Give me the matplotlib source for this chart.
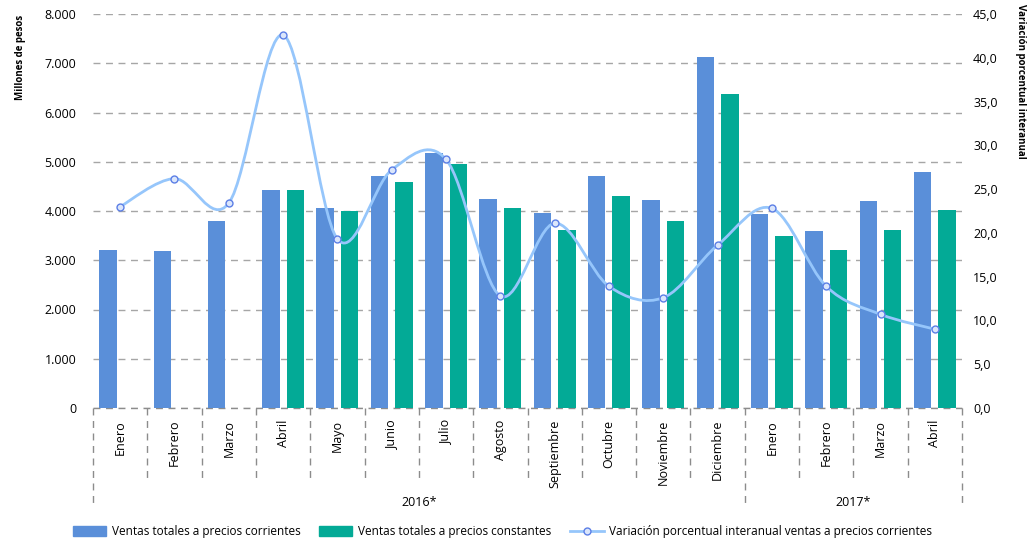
import matplotlib
matplotlib.use("Agg")
import matplotlib.pyplot as plt
from matplotlib.path import Path
from matplotlib.patches import PathPatch, Patch
from matplotlib.lines import Line2D
from matplotlib.ticker import FuncFormatter
import numpy as np

plt.rcParams['font.family'] = ['Open Sans', 'DejaVu Sans']

meses = ["Enero", "Febrero", "Marzo", "Abril", "Mayo", "Junio", "Julio", "Agosto",
         "Septiembre", "Octubre", "Noviembre", "Diciembre",
         "Enero", "Febrero", "Marzo", "Abril"]
anios = ["2016*", "2017*"]
meses_por_anio = [12, 4]

corrientes = [3200, 3180, 3800, 4420, 4070, 4720, 5170, 4250, 3950, 4720, 4220, 7120,
              3930, 3600, 4200, 4800]
constantes = [np.nan, np.nan, np.nan, 4420, 3990, 4580, 4950, 4060, 3620, 4300, 3790, 6370,
              3500, 3200, 3620, 4030]
variacion = [23.0, 26.2, 23.4, 42.6, 19.3, 27.2, 28.4, 12.8, 21.1, 13.9, 12.6, 18.6,
             22.8, 13.9, 10.7, 9.0]

c_azul = "#5a8fd9"
c_verde = "#03aa96"
c_linea = "#96c6fb"
c_marca = "#5c7fe6"

fig = plt.figure(figsize=(10.32, 5.46), dpi=100)
ax = fig.add_axes([93/1032, 1-408/546, (962-93)/1032, 394/546])
ax2 = ax.twinx()

x = np.arange(len(meses))
w = 0.32
ax.bar(x - 0.225, corrientes, w, color=c_azul, zorder=2)
ax.bar(x + 0.225, constantes, w, color=c_verde, zorder=2)

ax.set_xlim(-0.5, len(meses) - 0.5)
ax.set_ylim(0, 8000)
ax.set_yticks(np.arange(0, 8001, 1000))
ax.yaxis.set_major_formatter(FuncFormatter(lambda v, p: "0" if v == 0 else f"{int(v):,}".replace(",", ".")))
ax.grid(axis="y", color="#a6a6a6", linestyle=(0, (5, 4)), linewidth=1, zorder=0)
ax.set_xticks([])
for s in ax.spines.values():
    s.set_visible(False)
for s in ax2.spines.values():
    s.set_visible(False)
ax.tick_params(axis="y", length=0, pad=12, labelsize=9)

ax2.set_ylim(0, 45)
ax2.set_yticks(np.arange(0, 46, 5))
ax2.yaxis.set_major_formatter(FuncFormatter(lambda v, p: f"{v:.1f}".replace(".", ",")))
ax2.tick_params(axis="y", length=0, pad=8, labelsize=9)

# linea suavizada (Catmull-Rom como bezier)
pts = np.column_stack([x, variacion])
verts = [pts[0]]
codes = [Path.MOVETO]
n = len(pts)
for i in range(n - 1):
    p0 = pts[max(i - 1, 0)]
    p1 = pts[i]
    p2 = pts[i + 1]
    p3 = pts[min(i + 2, n - 1)]
    verts += [p1 + (p2 - p0) / 6, p2 - (p3 - p1) / 6, p2]
    codes += [Path.CURVE4] * 3
ax2.add_patch(PathPatch(Path(verts, codes), facecolor="none", edgecolor=c_linea, lw=2, zorder=3))
ax2.plot(x, variacion, linestyle="none", marker="o", ms=5, mfc="#dbe6fb", mec=c_marca, mew=1, zorder=4)

ax.set_ylabel("Millones de pesos", fontsize=7, fontweight="bold")
ax.yaxis.set_label_coords(-0.077, 0.89)
ax2.set_ylabel("Variación porcentual interanual", fontsize=7, fontweight="bold", rotation=-90, labelpad=0)
ax2.yaxis.set_label_coords(1.074, 0.83)

# eje de categorias en dos niveles
tr = ax.get_xaxis_transform()
sep_corto = -74/394
sep_largo = -100/394
limites = np.cumsum([0] + meses_por_anio) - 0.5
for k in range(len(meses) + 1):
    xb = k - 0.5
    y1 = sep_largo if xb in limites else sep_corto
    ax.plot([xb, xb], [0, y1], transform=tr, color="#8c8c8c", linestyle=(0, (5, 4)),
            lw=1, clip_on=False)
ax.plot([-0.5, len(meses) - 0.5], [0, 0], transform=tr, color="#8c8c8c",
        linestyle=(0, (5, 4)), lw=1, clip_on=False, zorder=1)
for i, m in enumerate(meses):
    ax.text(i, -12/394, m, transform=tr, rotation=90, ha="center", va="top", fontsize=9)
for a, lo, hi in zip(anios, limites[:-1], limites[1:]):
    ax.text((lo + hi) / 2, -95/394, a, transform=tr, ha="center", va="center", fontsize=9)

handles = [Patch(color=c_azul), Patch(color=c_verde),
           Line2D([], [], color=c_linea, lw=2, marker="o", ms=5, mfc="#dbe6fb", mec=c_marca)]
labels = ["Ventas totales a precios corrientes", "Ventas totales a precios constantes",
          "Variación porcentual interanual ventas a precios corrientes"]
fig.legend(handles, labels, loc="lower center", bbox_to_anchor=(0.487, -0.005), ncol=3,
           frameon=False, fontsize=8.5, handlelength=2.8, handleheight=0.8,
           handletextpad=0.5, columnspacing=1.6)

fig.savefig("out.png", dpi=100)
